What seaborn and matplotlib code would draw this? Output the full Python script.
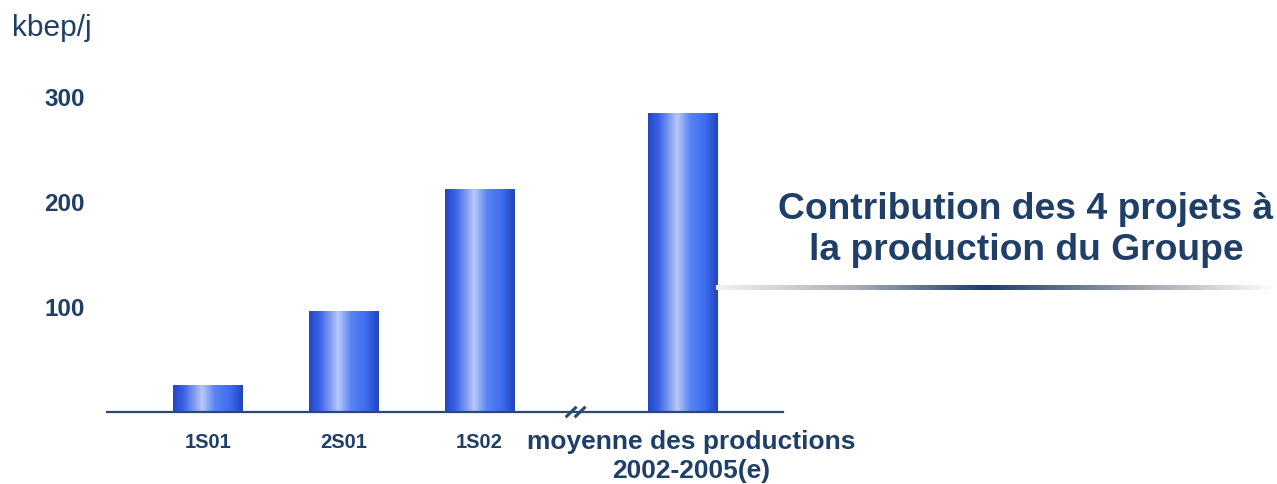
import numpy as np
import pandas as pd
import matplotlib
matplotlib.use("Agg")
import matplotlib.pyplot as plt
from matplotlib.colors import LinearSegmentedColormap
import matplotlib.transforms as mtransforms
import seaborn as sns

# data
periodes = ['1S01', '2S01', '1S02', 'moyenne des productions\n2002-2005(e)']
production = [26, 96, 212, 285]
y_ticks = [100, 200, 300]

sns.set_theme(style='white')
plt.rcParams['font.family'] = ['Liberation Sans', 'DejaVu Sans']

navy = '#1f3f68'
positions = [0, 1, 2, 3.49]   # gap before the last bar (axis break)

df = pd.DataFrame({'pos': positions, 'kbep': production})

fig = plt.figure(figsize=(12.77, 4.84), dpi=100)
ax = fig.add_axes([107 / 1277, 72 / 484, 676 / 1277, 372 / 484])

sns.barplot(data=df, x='pos', y='kbep', native_scale=True, width=0.51,
            color='#3f6ef0', ax=ax, linewidth=0)

# cylinder-like horizontal gradient on each bar
bar_cmap = LinearSegmentedColormap.from_list('bar', [
    (0.0, '#2246c0'), (0.15, '#3a62e6'), (0.42, '#b6c8f8'),
    (0.6, '#5a84f2'), (0.82, '#3d6cf0'), (1.0, '#2244bc')])
grad = np.linspace(0, 1, 256).reshape(1, -1)
for p in ax.patches:
    x0, y0 = p.get_x(), p.get_y()
    w, h = p.get_width(), p.get_height()
    im = ax.imshow(grad, cmap=bar_cmap, aspect='auto',
                   extent=[x0, x0 + w, y0, y0 + h], zorder=2)
    im.set_clip_path(p)
    p.set_facecolor('none')

ax.set_xlim(-0.74, 4.23)
ax.set_ylim(0, 354)

ax.set_yticks(y_ticks)
ax.set_yticklabels([str(v) for v in y_ticks], fontsize=17.5,
                   fontweight='bold', color=navy)
ax.tick_params(axis='y', length=0, pad=16)

ax.set_xticks(positions)
ax.set_xticklabels(periodes, fontweight='bold', color=navy, fontsize=14.5,
                   linespacing=1.28)
ax.tick_params(axis='x', length=0, pad=15)
labels = ax.get_xticklabels()
labels[-1].set_fontsize(19)
labels[-1].set_transform(labels[-1].get_transform() +
                         mtransforms.ScaledTranslation(9 / 100, 3 / 100, fig.dpi_scale_trans))

ax.set_xlabel('')
ax.set_ylabel('')
for s in ['top', 'right', 'left']:
    ax.spines[s].set_visible(False)
ax.spines['bottom'].set_color('#2a4a72')
ax.spines['bottom'].set_linewidth(1.6)

# axis break marks
for xb in [2.672, 2.738]:
    ax.plot([xb - 0.04, xb + 0.04], [-5, 5], color='#2a4a72', lw=2.2,
            clip_on=False, zorder=5, solid_capstyle='butt')

fig.text(12 / 1277, 1 - 28 / 484, 'kbep/j', fontsize=21.5, color=navy,
         va='center', ha='left')

fig.text(1026 / 1277, 1 - 230 / 484, 'Contribution des 4 projets à\nla production du Groupe',
         fontsize=26.8, fontweight='bold', color=navy, ha='center', va='center',
         linespacing=1.22)

# gradient rule under the title
lax = fig.add_axes([716 / 1277, (484 - 290) / 484, 561 / 1277, 5 / 484])
rule_cmap = LinearSegmentedColormap.from_list('rule', [
    (0.0, '#f2f2f2'), (0.25, '#a8adb8'), (0.48, '#1c3c66'),
    (0.75, '#9aa0ad'), (1.0, '#ffffff')])
lax.imshow(np.linspace(0, 1, 512).reshape(1, -1), cmap=rule_cmap, aspect='auto')
lax.axis('off')

fig.savefig('out.png', dpi=100)
